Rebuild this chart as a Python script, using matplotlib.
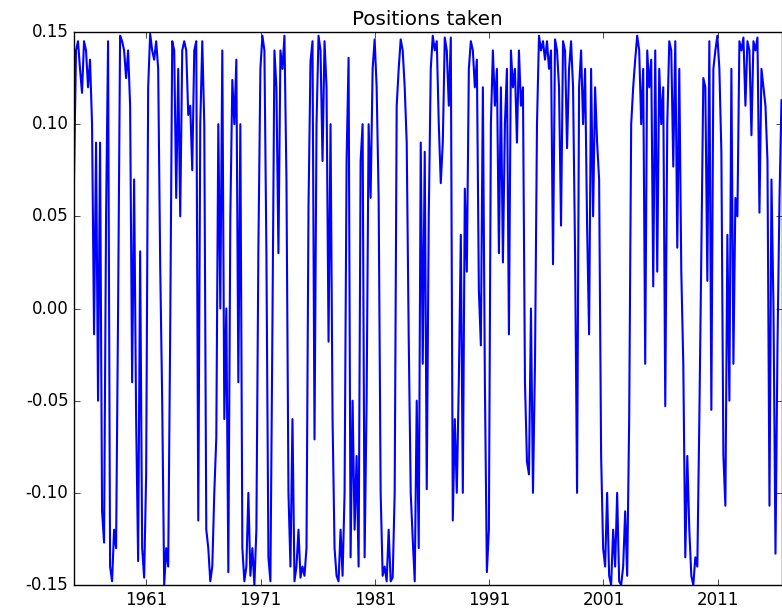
import matplotlib
matplotlib.use('Agg')
import matplotlib.pyplot as plt
import pandas as pd

# positions, every 2 px (about 64 days apart)
pos_1954_1964 = [
    0.07, 0.14, 0.145, 0.13, 0.117, 0.145, 0.14, 0.12, 0.135, 0.10,
    -0.014, 0.09, -0.05, 0.09, -0.11, -0.127, 0.05, 0.145, -0.14, -0.148,
    -0.12, -0.13, 0.0, 0.148, 0.145, 0.14, 0.125, 0.14, 0.11, -0.04,
    0.07, -0.06, -0.137, 0.031, -0.13, -0.146, -0.09, 0.12, 0.149, 0.14,
    0.135, 0.145, 0.13, 0.024, -0.05, -0.15, -0.13, -0.14, -0.012, 0.145,
    0.14, 0.06, 0.13, 0.05, 0.14, 0.145, 0.14, 0.105,
]
pos_1964_1974 = [
    0.11, 0.075, 0.14, 0.145, -0.115, 0.10, 0.145, 0.10, -0.12, -0.13,
    -0.148, -0.14, -0.10, -0.07, 0.10, 0.0, 0.14, -0.06, 0.0, -0.143,
    0.05, 0.124, 0.10, 0.135, -0.04, 0.10, -0.13, -0.148, -0.14, -0.10,
    -0.145, -0.13, -0.15, -0.12, 0.033, 0.13, 0.148, 0.14, 0.03, -0.135,
    -0.148, -0.01, 0.14, 0.12, 0.03, 0.14, 0.13, 0.148, 0.07, -0.10,
    -0.14, -0.06, -0.148, -0.14, -0.12, -0.146, -0.14, -0.145,
]
pos_1975_1985 = [
    -0.13, 0.055, 0.134, 0.145, -0.071, 0.10, 0.148, 0.14, 0.08, 0.145,
    0.12, -0.018, 0.10, -0.06, -0.13, -0.145, -0.148, -0.12, -0.145, -0.10,
    0.08, 0.136, -0.135, -0.05, -0.12, -0.08, -0.14, 0.08, 0.10, -0.135,
    -0.05, 0.10, 0.06, 0.13, 0.146, 0.12, 0.06, -0.10, -0.145, -0.14,
    -0.148, -0.12, -0.148, -0.146, -0.10, 0.11, 0.13, 0.146, 0.14, 0.12,
    0.09, -0.016, -0.10, -0.125, -0.148, -0.05, -0.13, 0.09, -0.03, 0.085,
]
pos_1985_1996 = [
    -0.098, 0.05, 0.13, 0.148, 0.14, 0.145, 0.10, 0.068, 0.09, 0.147,
    0.14, 0.11, 0.147, -0.115, -0.06, -0.10, -0.04, 0.04, -0.10, 0.065,
    0.02, 0.13, 0.145, 0.14, 0.12, 0.135, 0.01, -0.02, 0.12, -0.04,
    -0.143, -0.12, 0.10, 0.14, 0.11, 0.13, 0.03, 0.12, 0.025, 0.10,
    0.13, -0.014, 0.14, 0.12, 0.13, 0.09, 0.14, 0.11, 0.12, -0.04,
    -0.083, -0.09, 0.0, -0.10, -0.03, 0.10, 0.148, 0.14, 0.145, 0.135,
]
pos_1996_2006 = [
    0.145, 0.13, 0.14, 0.024, 0.146, 0.14, 0.12, 0.045, 0.145, 0.14,
    0.087, 0.13, 0.145, 0.12, 0.03, -0.10, 0.12, 0.14, 0.10, 0.13,
    0.045, -0.014, 0.13, 0.05, 0.12, 0.09, 0.07, -0.08, -0.13, -0.14,
    -0.10, -0.145, -0.15, -0.12, -0.14, -0.10, -0.148, -0.15, -0.14, -0.11,
    -0.145, -0.06, 0.10, 0.12, 0.135, 0.148, 0.14, 0.10, 0.13, -0.03,
    0.14, 0.12, 0.135, 0.012, 0.14, 0.02, 0.13, 0.10, 0.12, -0.053,
]
pos_2006_2016 = [
    0.10, 0.145, 0.14, 0.077, 0.145, 0.033, 0.13, 0.02, -0.03, -0.135,
    -0.08, -0.12, -0.145, -0.15, -0.135, -0.14, -0.06, 0.03, 0.125, 0.12,
    0.015, 0.145, -0.055, 0.13, 0.14, 0.148, 0.13, 0.085, -0.08, -0.107,
    0.04, -0.05, 0.13, -0.03, 0.06, 0.05, 0.145, 0.14, 0.147, 0.11,
    0.145, 0.14, 0.094, 0.145, 0.14, 0.147, 0.052, 0.13, 0.12, 0.11,
    0.08, -0.107, 0.07, 0.0, -0.133, -0.02, 0.06, 0.113,
]

positions = (pos_1954_1964 + pos_1964_1974 + pos_1975_1985
             + pos_1985_1996 + pos_1996_2006 + pos_2006_2016)
dates = pd.date_range('1954-08-28', '2016-08-03', periods=len(positions))

tick_years = [1961, 1971, 1981, 1991, 2001, 2011]
y_ticks = [-0.15, -0.10, -0.05, 0.00, 0.05, 0.10, 0.15]

plt.style.use('classic')

fig = plt.figure(figsize=(7.82, 6.09), dpi=100, facecolor='white')
ax = fig.add_axes([74 / 782, 24 / 609, 707.5 / 782, 553 / 609])

ax.plot(dates, positions, color='b', linewidth=1.5)

ax.set_title('Positions taken')
ax.set_xlim(dates[0], dates[-1])
ax.set_ylim(-0.15, 0.15)
ax.set_yticks(y_ticks)
ax.set_yticklabels(['%.2f' % t for t in y_ticks])
ax.set_xticks([pd.Timestamp(year=y, month=1, day=1) for y in tick_years])
ax.set_xticklabels([str(y) for y in tick_years])

plt.savefig('out.png', dpi=100, facecolor='white')
